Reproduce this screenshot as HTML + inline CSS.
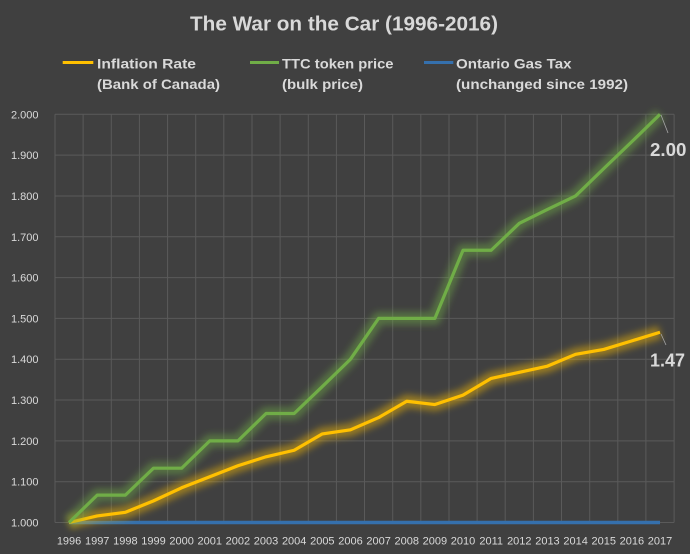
<!DOCTYPE html>
<html>
<head>
<meta charset="utf-8">
<style>
  html, body { margin: 0; padding: 0; background: #404040; }
  svg { display: block; }
  text { font-family: "Liberation Sans", Arial, sans-serif; fill: #d9d9d9; }
</style>
</head>
<body>
<svg width="690" height="554" viewBox="0 0 690 554" xmlns="http://www.w3.org/2000/svg">
  <defs>
    <filter id="glow" x="-20%" y="-20%" width="140%" height="140%">
      <feGaussianBlur stdDeviation="3.5"/>
    </filter>
  </defs>
  <rect x="0" y="0" width="690" height="554" fill="#404040"/>

  <!-- Title -->
  <text x="190" y="30.5" font-size="20" font-weight="bold" textLength="308" lengthAdjust="spacingAndGlyphs">The War on the Car (1996-2016)</text>

  <!-- Legend -->
  <line x1="62.7" y1="62.5" x2="93.3" y2="62.5" stroke="#ffc000" stroke-width="3"/>
  <text x="97" y="68.5" font-size="14" font-weight="bold" textLength="99" lengthAdjust="spacingAndGlyphs">Inflation Rate</text>
  <text x="97" y="89" font-size="14" font-weight="bold" textLength="123" lengthAdjust="spacingAndGlyphs">(Bank of Canada)</text>

  <line x1="250" y1="62.5" x2="279" y2="62.5" stroke="#70ad47" stroke-width="3"/>
  <text x="282" y="68.5" font-size="14" font-weight="bold" textLength="111.5" lengthAdjust="spacingAndGlyphs">TTC token price</text>
  <text x="282" y="89" font-size="14" font-weight="bold" textLength="81" lengthAdjust="spacingAndGlyphs">(bulk price)</text>

  <line x1="424" y1="62.5" x2="453.3" y2="62.5" stroke="#3570ad" stroke-width="3"/>
  <text x="456" y="68.5" font-size="14" font-weight="bold" textLength="115.5" lengthAdjust="spacingAndGlyphs">Ontario Gas Tax</text>
  <text x="456" y="89" font-size="14" font-weight="bold" textLength="172" lengthAdjust="spacingAndGlyphs">(unchanged since 1992)</text>

  <!-- Gridlines -->
  <g stroke="#5a5a5a" stroke-width="1">
    <line x1="55" y1="114.3" x2="674" y2="114.3"/>
    <line x1="55" y1="155.1" x2="674" y2="155.1"/>
    <line x1="55" y1="196.0" x2="674" y2="196.0"/>
    <line x1="55" y1="236.8" x2="674" y2="236.8"/>
    <line x1="55" y1="277.6" x2="674" y2="277.6"/>
    <line x1="55" y1="318.4" x2="674" y2="318.4"/>
    <line x1="55" y1="359.2" x2="674" y2="359.2"/>
    <line x1="55" y1="400.0" x2="674" y2="400.0"/>
    <line x1="55" y1="440.9" x2="674" y2="440.9"/>
    <line x1="55" y1="481.7" x2="674" y2="481.7"/>
    <line x1="55" y1="522.5" x2="674" y2="522.5"/>

    <line x1="55.0" y1="114.3" x2="55.0" y2="522.5"/>
    <line x1="83.1" y1="114.3" x2="83.1" y2="522.5"/>
    <line x1="111.3" y1="114.3" x2="111.3" y2="522.5"/>
    <line x1="139.4" y1="114.3" x2="139.4" y2="522.5"/>
    <line x1="167.6" y1="114.3" x2="167.6" y2="522.5"/>
    <line x1="195.7" y1="114.3" x2="195.7" y2="522.5"/>
    <line x1="223.8" y1="114.3" x2="223.8" y2="522.5"/>
    <line x1="252.0" y1="114.3" x2="252.0" y2="522.5"/>
    <line x1="280.1" y1="114.3" x2="280.1" y2="522.5"/>
    <line x1="308.3" y1="114.3" x2="308.3" y2="522.5"/>
    <line x1="336.4" y1="114.3" x2="336.4" y2="522.5"/>
    <line x1="364.5" y1="114.3" x2="364.5" y2="522.5"/>
    <line x1="392.7" y1="114.3" x2="392.7" y2="522.5"/>
    <line x1="420.8" y1="114.3" x2="420.8" y2="522.5"/>
    <line x1="449.0" y1="114.3" x2="449.0" y2="522.5"/>
    <line x1="477.1" y1="114.3" x2="477.1" y2="522.5"/>
    <line x1="505.2" y1="114.3" x2="505.2" y2="522.5"/>
    <line x1="533.4" y1="114.3" x2="533.4" y2="522.5"/>
    <line x1="561.5" y1="114.3" x2="561.5" y2="522.5"/>
    <line x1="589.7" y1="114.3" x2="589.7" y2="522.5"/>
    <line x1="617.8" y1="114.3" x2="617.8" y2="522.5"/>
    <line x1="645.9" y1="114.3" x2="645.9" y2="522.5"/>
    <line x1="674.1" y1="114.3" x2="674.1" y2="522.5"/>
  </g>

  <!-- Y axis labels -->
  <g font-size="11" text-anchor="end">
    <text x="38.5" y="118.3">2.000</text>
    <text x="38.5" y="159.1">1.900</text>
    <text x="38.5" y="200.0">1.800</text>
    <text x="38.5" y="240.8">1.700</text>
    <text x="38.5" y="281.6">1.600</text>
    <text x="38.5" y="322.4">1.500</text>
    <text x="38.5" y="363.2">1.400</text>
    <text x="38.5" y="404.0">1.300</text>
    <text x="38.5" y="444.9">1.200</text>
    <text x="38.5" y="485.7">1.100</text>
    <text x="38.5" y="526.5">1.000</text>
  </g>

  <!-- X axis labels -->
  <g font-size="11" text-anchor="middle">
    <text x="69.07" y="544.5">1996</text>
    <text x="97.21" y="544.5">1997</text>
    <text x="125.35" y="544.5">1998</text>
    <text x="153.49" y="544.5">1999</text>
    <text x="181.63" y="544.5">2000</text>
    <text x="209.77" y="544.5">2001</text>
    <text x="237.91" y="544.5">2002</text>
    <text x="266.05" y="544.5">2003</text>
    <text x="294.19" y="544.5">2004</text>
    <text x="322.33" y="544.5">2005</text>
    <text x="350.47" y="544.5">2006</text>
    <text x="378.61" y="544.5">2007</text>
    <text x="406.75" y="544.5">2008</text>
    <text x="434.89" y="544.5">2009</text>
    <text x="463.03" y="544.5">2010</text>
    <text x="491.17" y="544.5">2011</text>
    <text x="519.31" y="544.5">2012</text>
    <text x="547.45" y="544.5">2013</text>
    <text x="575.59" y="544.5">2014</text>
    <text x="603.73" y="544.5">2015</text>
    <text x="631.87" y="544.5">2016</text>
    <text x="660.01" y="544.5">2017</text>
  </g>

  <!-- Blue series (gas tax) -->
  <line x1="69.07" y1="522.5" x2="660.01" y2="522.5" stroke="#3570ad" stroke-width="12" stroke-opacity="0.55" filter="url(#glow)"/>
  <line x1="69.07" y1="522.5" x2="660.01" y2="522.5" stroke="#3570ad" stroke-width="3.5"/>

  <!-- Yellow series (inflation) -->
  <polyline fill="none" stroke="#ffc000" stroke-width="13" stroke-opacity="0.45" stroke-linejoin="round" filter="url(#glow)"
    points="69.07,522.5 97.21,515.97 125.35,512.3 153.49,500.87 181.63,487.8 209.77,476.78 237.91,465.76 266.05,456.78 294.19,450.25 322.33,433.92 350.47,429.84 378.61,417.59 406.75,401.26 434.89,404.53 463.03,395.14 491.17,378.4 519.31,372.28 547.45,366.16 575.59,354.32 603.73,349.42 631.87,340.85 660.01,332.28"/>
  <polyline fill="none" stroke="#ffc000" stroke-width="3.2" stroke-linejoin="round"
    points="69.07,522.5 97.21,515.97 125.35,512.3 153.49,500.87 181.63,487.8 209.77,476.78 237.91,465.76 266.05,456.78 294.19,450.25 322.33,433.92 350.47,429.84 378.61,417.59 406.75,401.26 434.89,404.53 463.03,395.14 491.17,378.4 519.31,372.28 547.45,366.16 575.59,354.32 603.73,349.42 631.87,340.85 660.01,332.28"/>

  <!-- Green series (TTC) -->
  <polyline fill="none" stroke="#70ad47" stroke-width="13" stroke-opacity="0.45" stroke-linejoin="round" filter="url(#glow)"
    points="69.07,522.5 97.21,495.15 125.35,495.15 153.49,468.21 181.63,468.21 209.77,440.86 237.91,440.86 266.05,413.51 294.19,413.51 322.33,386.57 350.47,359.22 378.61,318.4 406.75,318.4 434.89,318.4 463.03,250.23 491.17,250.23 519.31,223.29 547.45,209.41 575.59,195.94 603.73,168.59 631.87,141.65 660.01,114.3"/>
  <polyline fill="none" stroke="#70ad47" stroke-width="3.2" stroke-linejoin="round"
    points="69.07,522.5 97.21,495.15 125.35,495.15 153.49,468.21 181.63,468.21 209.77,440.86 237.91,440.86 266.05,413.51 294.19,413.51 322.33,386.57 350.47,359.22 378.61,318.4 406.75,318.4 434.89,318.4 463.03,250.23 491.17,250.23 519.31,223.29 547.45,209.41 575.59,195.94 603.73,168.59 631.87,141.65 660.01,114.3"/>

  <!-- Data labels -->
  <line x1="661" y1="115" x2="668" y2="133" stroke="#a6a6a6" stroke-width="0.8"/>
  <text x="650" y="156" font-size="18" font-weight="bold" textLength="36.5" lengthAdjust="spacingAndGlyphs">2.00</text>
  <line x1="661" y1="334" x2="666" y2="345" stroke="#a6a6a6" stroke-width="0.8"/>
  <text x="650" y="366.7" font-size="18" font-weight="bold" textLength="35" lengthAdjust="spacingAndGlyphs">1.47</text>
</svg>
</body>
</html>
